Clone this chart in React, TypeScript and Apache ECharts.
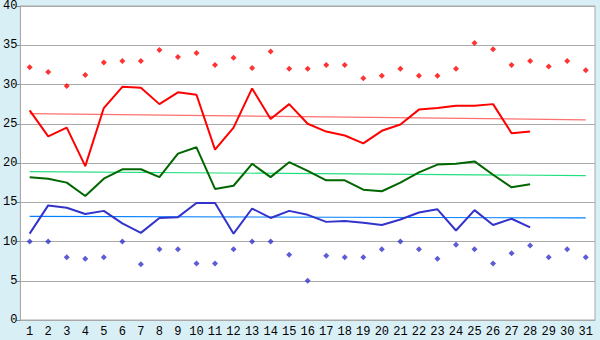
import React, { useEffect, useRef } from "react";
import * as echarts from "echarts";

const days = Array.from({ length: 31 }, (_, i) => String(i + 1));

const maxPoints = [32.2, 31.6, 29.8, 31.2, 32.8, 33.0, 33.0, 34.4, 33.5, 34.0, 32.5, 33.4, 32.1, 34.2, 32.0, 32.0, 32.5, 32.5, 30.8, 31.1, 32.0, 31.1, 31.1, 32.0, 35.3, 34.5, 32.5, 33.0, 32.3, 33.0, 31.8];
const minPoints = [10.0, 10.0, 8.0, 7.8, 8.0, 10.0, 7.1, 9.0, 9.0, 7.2, 7.2, 9.0, 10.0, 10.0, 8.3, 5.0, 8.2, 8.0, 8.0, 9.0, 10.0, 9.0, 7.8, 9.6, 9.0, 7.2, 8.5, 9.5, 8.0, 9.0, 8.0];

const redLine = [26.7, 23.4, 24.5, 19.6, 27.0, 29.7, 29.6, 27.5, 29.0, 28.7, 21.7, 24.5, 29.5, 25.6, 27.5, 25.0, 24.0, 23.5, 22.5, 24.1, 24.9, 26.8, 27.0, 27.3, 27.3, 27.5, 23.8, 24.0];
const greenLine = [18.2, 18.0, 17.5, 15.8, 18.0, 19.2, 19.2, 18.2, 21.2, 22.0, 16.7, 17.1, 19.9, 18.2, 20.1, 19.0, 17.8, 17.8, 16.6, 16.4, 17.5, 18.8, 19.8, 19.9, 20.2, 18.5, 16.9, 17.3];
const blueLine = [11.0, 14.6, 14.3, 13.5, 13.9, 12.3, 11.1, 13.0, 13.1, 14.9, 14.9, 11.0, 14.2, 13.0, 13.9, 13.4, 12.5, 12.6, 12.4, 12.1, 12.8, 13.7, 14.1, 11.4, 14.0, 12.1, 12.9, 11.8];

const redTrend = [26.3, 25.5];
const greenTrend = [18.9, 18.4];
const blueTrend = [13.2, 13.0];

const yTicks = [0, 5, 10, 15, 20, 25, 30, 35, 40];

export default function App() {
  const ref = useRef<HTMLDivElement>(null);
  useEffect(() => {
    if (!ref.current) return;
    const chart = echarts.init(ref.current, undefined, { renderer: "svg" });
    const trend = (vals: number[]) => [
      [days[0], vals[0]],
      [days[days.length - 1], vals[1]],
    ];
    const font = "Liberation Mono";
    chart.setOption({
      animation: false,
      backgroundColor: "#d9eff6",
      grid: {
        left: 20,
        right: 5,
        top: 5,
        bottom: 20,
        show: true,
        backgroundColor: "#ffffff",
        borderColor: "#a8a8a8",
        borderWidth: 1,
      },
      xAxis: {
        type: "category",
        data: days,
        boundaryGap: true,
        axisLine: { lineStyle: { color: "#a8a8a8", width: 1 } },
        axisTick: { alignWithLabel: true, length: 4, lineStyle: { color: "#888" } },
        axisLabel: { color: "#000", fontFamily: font, fontSize: 12, margin: 6, interval: 0 },
        splitLine: { show: false },
      },
      yAxis: {
        type: "value",
        min: yTicks[0],
        max: yTicks[yTicks.length - 1],
        interval: 5,
        axisLine: { show: true, lineStyle: { color: "#a8a8a8", width: 1 } },
        axisTick: { show: true, length: 4, lineStyle: { color: "#888" } },
        axisLabel: { color: "#000", fontFamily: font, fontSize: 12, margin: 3 },
        splitLine: { lineStyle: { color: "#aaaaaa", width: 1 } },
      },
      series: [
        {
          type: "line",
          data: trend(redTrend),
          symbol: "none",
          lineStyle: { color: "#ff7070", width: 1.2 },
          z: 1,
        },
        {
          type: "line",
          data: trend(greenTrend),
          symbol: "none",
          lineStyle: { color: "#22e07f", width: 1.2 },
          z: 1,
        },
        {
          type: "line",
          data: trend(blueTrend),
          symbol: "none",
          lineStyle: { color: "#0080ff", width: 1.2 },
          z: 1,
        },
        {
          type: "line",
          data: redLine,
          symbol: "none",
          lineStyle: { color: "#ff0000", width: 2 },
          z: 2,
        },
        {
          type: "line",
          data: greenLine,
          symbol: "none",
          lineStyle: { color: "#006600", width: 2 },
          z: 2,
        },
        {
          type: "line",
          data: blueLine,
          symbol: "none",
          lineStyle: { color: "#3333cc", width: 2 },
          z: 2,
        },
        {
          type: "scatter",
          data: maxPoints,
          symbol: "diamond",
          symbolSize: 6,
          itemStyle: { color: "#ff0000" },
          z: 3,
        },
        {
          type: "scatter",
          data: minPoints,
          symbol: "diamond",
          symbolSize: 6,
          itemStyle: { color: "#3333cc" },
          z: 3,
        },
      ],
    });
    return () => chart.dispose();
  }, []);
  return <div ref={ref} style={{ width: 600, height: 340, position: "absolute", left: 0, top: 0 }} />;
}
